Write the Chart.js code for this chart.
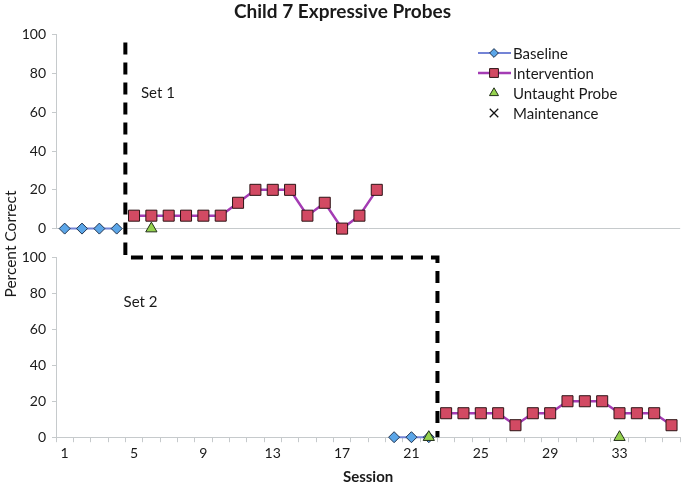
<!DOCTYPE html>
<html>
<head>
<meta charset="utf-8">
<title>Child 7 Expressive Probes</title>
<script src="https://cdn.jsdelivr.net/npm/chart.js@4.4.1/dist/chart.umd.min.js"></script>
<style>
  body { margin: 0; background: #fff; }
  #wrap { position: relative; width: 689px; height: 485px; }
  #topBox { position: absolute; left: 0; top: 0; width: 689px; height: 243px; }
  #botBox { position: absolute; left: 0; top: 243px; width: 689px; height: 242px; }
  #yTitle {
    position: absolute; left: -89px; top: 234px; width: 200px; height: 20px;
    line-height: 20px; text-align: center; transform: rotate(-90deg);
    font: 15.5px Lato, sans-serif; color: #1a1a1a;
  }
</style>
</head>
<body>
<div id="wrap">
  <div id="topBox"><canvas id="topChart"></canvas></div>
  <div id="botBox"><canvas id="botChart"></canvas></div>
  <div id="yTitle">Percent Correct</div>
</div>
<script>
// sessions on the x axis, and the ones that get a label
const sessions = ['1','2','3','4','5','6','7','8','9','10','11','12','13','14','15','16','17','18',
                  '19','20','21','22','23','24','25','26','27','28','29','30','31','32','33','34','35','36'];
const labelledSessions = ['1','5','9','13','17','21','25','29','33'];
const yTicks = [0, 20, 40, 60, 80, 100];

// Set 1 (top panel)
const set1BaselineSessions = [1, 2, 3, 4];
const set1BaselineValues = [0, 0, 0, 0];
const set1InterventionSessions = [5, 6, 7, 8, 9, 10, 11, 12, 13, 14, 15, 16, 17, 18, 19];
const set1InterventionValues = [6.67, 6.67, 6.67, 6.67, 6.67, 6.67, 13.33, 20, 20, 20, 6.67, 13.33, 0, 6.67, 20];
const set1ProbeSessions = [6];
const set1ProbeValues = [0];

// Set 2 (bottom panel)
const set2BaselineSessions = [20, 21, 22];
const set2BaselineValues = [0, 0, 0];
const set2InterventionSessions = [23, 24, 25, 26, 27, 28, 29, 30, 31, 32, 33, 34, 35, 36];
const set2InterventionValues = [13.33, 13.33, 13.33, 13.33, 6.67, 13.33, 13.33, 20, 20, 20, 13.33, 13.33, 13.33, 6.67];
const set2ProbeSessions = [22, 33];
const set2ProbeValues = [0, 0];

// no maintenance sessions plotted
const maintenanceSessions = [];
const maintenanceValues = [];

// phase change lines (between sessions)
const phaseChange1 = 4.5;
const phaseChange2 = 22.5;
const phaseLineTop = 96;

const FONT = 'Lato, sans-serif';
const axisGray = '#c6cacc';
const textColor = '#1a1a1a';

function points(s, v) {
  return s.map((x, i) => ({ x: String(x), y: v[i] }));
}

function panelDatasets(bS, bV, iS, iV, pS, pV) {
  return [
    {
      label: 'Baseline', data: points(bS, bV), order: 3, clip: false,
      borderColor: '#7484d6', borderWidth: 2,
      pointStyle: 'rectRot', pointRadius: 5.5,
      pointBackgroundColor: '#5ba6e8', pointBorderColor: '#22344f', pointBorderWidth: 1
    },
    {
      label: 'Intervention', data: points(iS, iV), order: 2, clip: false,
      borderColor: '#a43cb4', borderWidth: 2.5,
      pointStyle: 'rect', pointRadius: 7.8,
      pointBackgroundColor: '#d24a63', pointBorderColor: '#2e1416', pointBorderWidth: 1
    },
    {
      label: 'Untaught Probe', data: points(pS, pV), order: 1, clip: false, showLine: false,
      pointStyle: 'triangle', pointRadius: 6.5,
      pointBackgroundColor: '#95d24e', pointBorderColor: '#22301a', pointBorderWidth: 1
    },
    {
      label: 'Maintenance', data: points(maintenanceSessions, maintenanceValues), order: 0, clip: false, showLine: false,
      pointStyle: 'crossRot', pointRadius: 7.5,
      pointBackgroundColor: '#111', pointBorderColor: '#111', pointBorderWidth: 1.3
    }
  ];
}

function sessionIndex(s) { return s - 1; }

function yAxis(extra) {
  return Object.assign({
    min: 0, max: 100,
    afterBuildTicks: s => { s.ticks = yTicks.map(v => ({ value: v })); },
    afterFit: s => { s.width = 56; },
    border: { color: axisGray },
    ticks: { font: { family: FONT, size: 14 }, color: textColor, padding: 6 }
  }, extra);
}

// dashed phase-change line, drawn on each panel
const phaseLine = {
  id: 'phaseLine',
  afterDatasetsDraw(chart, args, opts) {
    const ctx = chart.ctx, x = chart.scales.x, y = chart.scales.y;
    ctx.save();
    ctx.strokeStyle = '#000';
    ctx.lineWidth = 4;
    ctx.setLineDash([12, 8]);
    ctx.beginPath();
    const x1 = x.getPixelForValue(sessionIndex(phaseChange1));
    if (opts.panel === 'top') {
      ctx.moveTo(x1, y.getPixelForValue(phaseLineTop));
      ctx.lineTo(x1, chart.height);
    } else {
      const x2 = x.getPixelForValue(sessionIndex(phaseChange2));
      ctx.moveTo(x1, 0);
      ctx.lineTo(x1, y.getPixelForValue(100));
      ctx.lineTo(x2, y.getPixelForValue(100));
      ctx.lineTo(x2, y.getPixelForValue(0));
    }
    ctx.stroke();
    ctx.restore();
  }
};

// "Set 1" / "Set 2" notes
const setLabel = {
  id: 'setLabel',
  afterDraw(chart, args, opts) {
    const ctx = chart.ctx;
    ctx.save();
    ctx.font = '15px ' + FONT;
    ctx.fillStyle = textColor;
    ctx.textBaseline = 'middle';
    ctx.fillText(opts.text, chart.scales.x.getPixelForValue(sessionIndex(opts.session)), chart.scales.y.getPixelForValue(opts.value));
    ctx.restore();
  }
};

// Excel-like legend inside the top panel
const boxLegend = {
  id: 'boxLegend',
  afterDraw(chart) {
    const ctx = chart.ctx;
    ctx.save();
    chart.data.datasets.forEach((ds, i) => {
      const y = 53 + i * 20;
      if (ds.showLine !== false) {
        ctx.strokeStyle = ds.borderColor;
        ctx.lineWidth = ds.borderWidth;
        ctx.beginPath();
        ctx.moveTo(478, y);
        ctx.lineTo(511, y);
        ctx.stroke();
      }
      ctx.fillStyle = ds.pointBackgroundColor;
      ctx.strokeStyle = ds.pointBorderColor;
      ctx.lineWidth = ds.pointBorderWidth;
      Chart.helpers.drawPoint(ctx, {
        pointStyle: ds.pointStyle, radius: ds.pointRadius * 0.8, rotation: 0, borderWidth: ds.pointBorderWidth
      }, 494, y);
      ctx.font = '15px ' + FONT;
      ctx.fillStyle = textColor;
      ctx.textBaseline = 'middle';
      ctx.fillText(ds.label, 513, y + 1);
    });
    ctx.restore();
  }
};

const topChart = new Chart(document.getElementById('topChart'), {
  type: 'line',
  data: {
    labels: sessions,
    datasets: panelDatasets(set1BaselineSessions, set1BaselineValues,
      set1InterventionSessions, set1InterventionValues, set1ProbeSessions, set1ProbeValues)
  },
  options: {
    responsive: true,
    maintainAspectRatio: false,
    animation: false,
    events: [],
    layout: { padding: { left: 0, right: 4, top: 0, bottom: 12 } },
    scales: {
      x: { type: 'category', offset: true, display: false },
      y: yAxis({
        grid: {
          color: c => c.tick && c.tick.value === 0 ? axisGray : 'rgba(0,0,0,0)',
          tickColor: axisGray, tickLength: 4
        }
      })
    },
    plugins: {
      legend: { display: false },
      tooltip: { enabled: false },
      title: {
        display: true, text: 'Child 7 Expressive Probes', color: textColor,
        font: { family: FONT, size: 19, weight: 'bold' },
        padding: { top: 0, bottom: 12 }
      },
      phaseLine: { panel: 'top' },
      setLabel: { text: 'Set 1', session: 5.4, value: 70 }
    }
  },
  plugins: [phaseLine, setLabel, boxLegend]
});

const botChart = new Chart(document.getElementById('botChart'), {
  type: 'line',
  data: {
    labels: sessions,
    datasets: panelDatasets(set2BaselineSessions, set2BaselineValues,
      set2InterventionSessions, set2InterventionValues, set2ProbeSessions, set2ProbeValues)
  },
  options: {
    responsive: true,
    maintainAspectRatio: false,
    animation: false,
    events: [],
    layout: { padding: { left: 0, right: 4, top: 14, bottom: 0 } },
    scales: {
      x: {
        type: 'category', offset: true,
        border: { color: axisGray },
        grid: { offset: true, drawOnChartArea: false, color: axisGray, tickLength: 5 },
        ticks: {
          autoSkip: false, maxRotation: 0, padding: 3,
          font: { family: FONT, size: 14 }, color: textColor,
          callback: (v, i) => labelledSessions.includes(sessions[i]) ? sessions[i] : ''
        },
        title: {
          display: true, text: 'Session', color: textColor,
          font: { family: FONT, size: 15, weight: 'bold', lineHeight: 1.0 },
          padding: { top: 5, bottom: 0 }
        }
      },
      y: yAxis({
        grid: { drawOnChartArea: false, color: axisGray, tickLength: 4 }
      })
    },
    plugins: {
      legend: { display: false },
      tooltip: { enabled: false },
      phaseLine: { panel: 'bottom' },
      setLabel: { text: 'Set 2', session: 4.4, value: 75 }
    }
  },
  plugins: [phaseLine, setLabel]
});
</script>
</body>
</html>
